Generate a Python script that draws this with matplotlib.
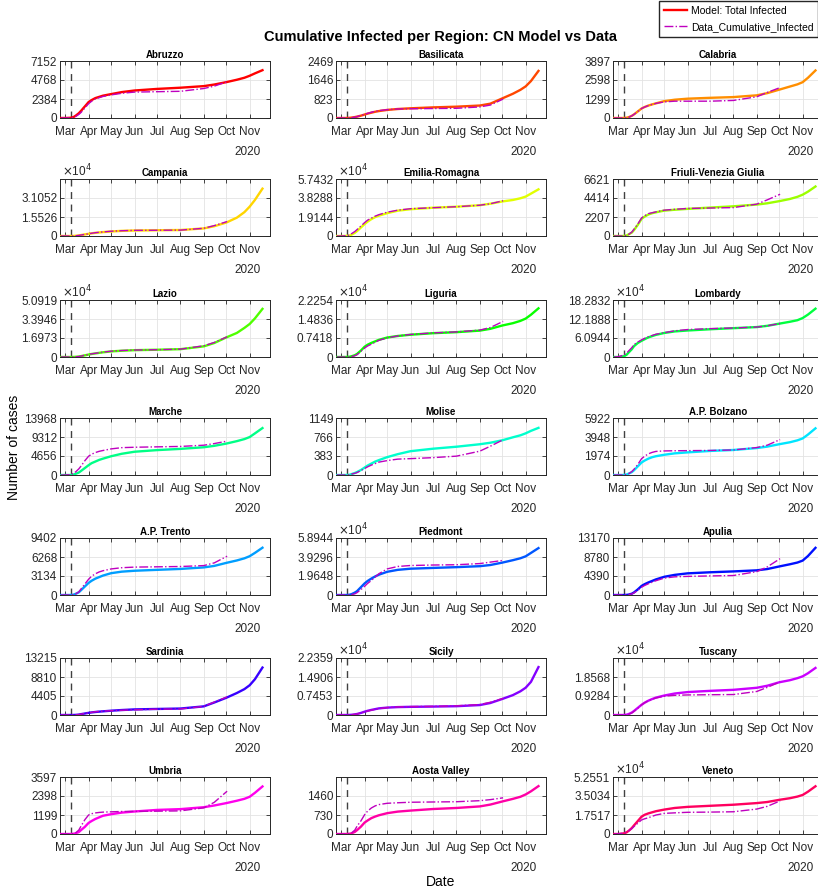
import numpy as np
import matplotlib
matplotlib.use('Agg')
import matplotlib.pyplot as plt
from matplotlib import font_manager

# pick a narrow Helvetica-like font if there is one
names = {f.name for f in font_manager.fontManager.ttflist}
if 'Liberation Sans Narrow' in names:
    base_font = 'Liberation Sans Narrow'
    fs = 9
else:
    base_font = 'Liberation Sans'
    fs = 8.5
plt.rcParams['font.family'] = [base_font, 'DejaVu Sans']

# Dates of the model and data points
model_dates = ['2020-02-24', '2020-03-01', '2020-03-08', '2020-03-12', '2020-03-15',
               '2020-03-19', '2020-03-22', '2020-03-27', '2020-04-01', '2020-04-05',
               '2020-04-10', '2020-04-15', '2020-04-20', '2020-05-01', '2020-05-15',
               '2020-06-01', '2020-07-01', '2020-08-01', '2020-09-01', '2020-09-15',
               '2020-10-01', '2020-10-15', '2020-10-25', '2020-11-01', '2020-11-08',
               '2020-11-18']
data_dates = model_dates[:20] + ['2020-10-02']
start_date = '2020-03-09'
xlim_dates = ['2020-02-23', '2020-11-28']
month_ticks = ['2020-03-01', '2020-04-01', '2020-05-01', '2020-06-01', '2020-07-01',
               '2020-08-01', '2020-09-01', '2020-10-01', '2020-11-01']
month_labels = ['Mar', 'Apr', 'May', 'Jun', 'Jul', 'Aug', 'Sep', 'Oct', 'Nov']

regions = ['Abruzzo', 'Basilicata', 'Calabria', 'Campania', 'Emilia-Romagna',
           'Friuli-Venezia Giulia', 'Lazio', 'Liguria', 'Lombardy', 'Marche', 'Molise',
           'A.P. Bolzano', 'A.P. Trento', 'Piedmont', 'Apulia', 'Sardinia', 'Sicily',
           'Tuscany', 'Umbria', 'Aosta Valley', 'Veneto']

# y axis: top limit and tick values, exponent flag
ylims = [7152, 2469, 3897, 46578, 57432, 6621, 50919, 22254, 182832, 13968, 1149,
         5922, 9402, 58944, 13170, 13215, 22359, 27852, 3597, 2190, 52551]
yticks = [[0, 2384, 4768, 7152], [0, 823, 1646, 2469], [0, 1299, 2598, 3897],
          [0, 15526, 31052], [0, 19144, 38288, 57432], [0, 2207, 4414, 6621],
          [0, 16973, 33946, 50919], [0, 7418, 14836, 22254], [0, 60944, 121888, 182832],
          [0, 4656, 9312, 13968], [0, 383, 766, 1149], [0, 1974, 3948, 5922],
          [0, 3134, 6268, 9402], [0, 19648, 39296, 58944], [0, 4390, 8780, 13170],
          [0, 4405, 8810, 13215], [0, 7453, 14906, 22359], [0, 9284, 18568],
          [0, 1199, 2398, 3597], [0, 730, 1460], [0, 17517, 35034, 52551]]
use_exp = [False, False, False, True, True, False, True, True, True, False, False,
           False, False, True, False, False, True, True, False, False, True]

# Model: Total Infected
model_vals = [
    [0, 0, 30, 120, 300, 600, 900, 1450, 2000, 2250, 2500, 2650, 2800, 3000, 3250, 3450, 3650, 3800, 4000, 4200, 4500, 4800, 5050, 5300, 5600, 6000],
    [0, 0, 0, 8, 20, 40, 60, 100, 150, 190, 230, 270, 300, 350, 390, 420, 460, 490, 540, 620, 850, 1050, 1220, 1370, 1600, 2040],
    [0, 0, 0, 20, 60, 150, 250, 450, 650, 750, 850, 930, 1000, 1150, 1250, 1320, 1380, 1430, 1550, 1700, 1940, 2150, 2300, 2450, 2750, 3250],
    [0, 0, 0, 60, 200, 500, 800, 1300, 1800, 2200, 2600, 2900, 3200, 3700, 4200, 4500, 4700, 4900, 6200, 8000, 11000, 15000, 19500, 24000, 29500, 38700],
    [0, 0, 100, 500, 1500, 3200, 5000, 8500, 12000, 14500, 17000, 19000, 20500, 23000, 25500, 27000, 28500, 29500, 31000, 32500, 34800, 36300, 38000, 39700, 42700, 47000],
    [0, 0, 0, 60, 200, 400, 700, 1300, 2000, 2250, 2500, 2650, 2750, 2950, 3050, 3150, 3300, 3450, 3650, 3800, 4050, 4300, 4550, 4800, 5150, 5750],
    [0, 0, 0, 60, 200, 450, 800, 1500, 2200, 2700, 3200, 3700, 4200, 5000, 5600, 6100, 6500, 7000, 9500, 12500, 17500, 21500, 26000, 29500, 34500, 43000],
    [0, 0, 0, 100, 300, 700, 1200, 2500, 4000, 4800, 5500, 6100, 6700, 7600, 8200, 8700, 9300, 9700, 10300, 11000, 12300, 13200, 14100, 15000, 16500, 19000],
    [0, 0, 2000, 7000, 15000, 25000, 35000, 45000, 52000, 57000, 63000, 67000, 71000, 77000, 82000, 85000, 89000, 92500, 96000, 100000, 107000, 113000, 118000, 125000, 136000, 155000],
    [0, 0, 0, 100, 300, 600, 1000, 1700, 2400, 2900, 3300, 3700, 4000, 4600, 5200, 5700, 6100, 6400, 6800, 7150, 7700, 8300, 8800, 9300, 10200, 11500],
    [0, 0, 0, 5, 20, 40, 60, 100, 150, 190, 230, 270, 300, 360, 420, 480, 530, 570, 620, 650, 700, 760, 800, 840, 890, 950],
    [0, 0, 0, 50, 150, 300, 500, 900, 1300, 1500, 1700, 1850, 1950, 2100, 2250, 2350, 2500, 2600, 2800, 2950, 3200, 3400, 3600, 3800, 4200, 4850],
    [0, 0, 0, 60, 200, 450, 800, 1400, 2000, 2350, 2700, 2950, 3200, 3600, 3850, 4000, 4150, 4300, 4550, 4800, 5300, 5700, 6050, 6400, 6950, 7800],
    [0, 0, 0, 300, 1000, 2500, 4000, 8000, 12000, 14500, 17000, 19200, 21000, 24000, 26000, 27200, 28000, 28800, 29800, 31000, 33500, 36000, 38000, 40000, 43500, 48500],
    [0, 0, 0, 30, 100, 300, 600, 1300, 2100, 2500, 2900, 3250, 3600, 4200, 4650, 5000, 5250, 5450, 5700, 6000, 6600, 7100, 7500, 7950, 9000, 10900],
    [0, 0, 0, 10, 30, 100, 200, 350, 500, 600, 700, 780, 850, 1000, 1150, 1300, 1400, 1500, 2000, 2900, 4000, 5100, 6000, 6900, 8300, 11000],
    [0, 0, 0, 30, 100, 250, 400, 800, 1300, 1650, 2000, 2300, 2600, 2900, 3100, 3200, 3300, 3450, 3900, 4700, 6300, 7800, 9300, 10700, 13000, 18800],
    [0, 0, 0, 150, 500, 1200, 2000, 3500, 5000, 6000, 7000, 7800, 8500, 9500, 10500, 11200, 11800, 12300, 13300, 14300, 16000, 17000, 18000, 18900, 20400, 23000],
    [0, 0, 0, 15, 50, 120, 250, 450, 700, 820, 950, 1050, 1150, 1250, 1350, 1420, 1520, 1570, 1690, 1800, 1950, 2100, 2220, 2350, 2600, 3000],
    [0, 0, 0, 10, 30, 80, 150, 280, 440, 520, 610, 670, 720, 800, 860, 900, 960, 1000, 1060, 1130, 1250, 1350, 1430, 1520, 1640, 1840],
    [0, 0, 500, 1500, 3000, 5500, 8000, 12000, 16000, 17700, 19000, 20000, 21000, 22500, 24000, 25000, 26000, 27000, 28500, 29500, 31500, 33000, 34500, 36000, 39000, 44000],
]

# Data_Cumulative_Infected
data_vals = [
    [0, 0, 20, 80, 200, 450, 700, 1250, 1800, 2100, 2400, 2550, 2700, 2900, 3100, 3250, 3300, 3350, 3700, 4000, 4550],
    [0, 0, 0, 5, 15, 35, 60, 110, 160, 200, 250, 290, 320, 360, 390, 400, 410, 420, 480, 560, 820],
    [0, 0, 0, 15, 50, 150, 250, 450, 650, 750, 850, 930, 1000, 1100, 1150, 1150, 1150, 1200, 1450, 1750, 2080],
    [0, 0, 0, 60, 200, 500, 800, 1300, 1800, 2250, 2700, 3000, 3300, 3900, 4300, 4600, 4700, 4800, 6300, 8500, 11800],
    [0, 0, 300, 1000, 2500, 4500, 6500, 10000, 13500, 16000, 18000, 20000, 21500, 24000, 26000, 27500, 28500, 29500, 31000, 32500, 35500],
    [0, 0, 0, 60, 200, 450, 800, 1400, 2100, 2350, 2600, 2700, 2800, 3000, 3100, 3200, 3250, 3300, 3700, 4200, 4850],
    [0, 0, 0, 60, 200, 450, 800, 1600, 2300, 2800, 3300, 3800, 4300, 5200, 5800, 6200, 6500, 7000, 10000, 13000, 18000],
    [0, 0, 0, 60, 200, 500, 900, 2200, 3500, 4300, 5000, 5800, 6500, 7500, 8200, 8800, 9400, 9800, 10500, 11500, 13900],
    [0, 1000, 6000, 12000, 20000, 30000, 40000, 48000, 55000, 60000, 65000, 69000, 73000, 78000, 84000, 88000, 91000, 93000, 96000, 100000, 107500],
    [0, 0, 100, 400, 800, 1500, 2200, 3500, 4600, 5100, 5500, 5800, 6000, 6400, 6700, 6800, 6900, 7000, 7300, 7700, 8300],
    [0, 0, 0, 5, 20, 35, 50, 90, 130, 165, 200, 230, 260, 290, 320, 330, 350, 380, 480, 580, 710],
    [0, 0, 0, 50, 150, 350, 600, 1100, 1700, 1950, 2200, 2350, 2450, 2500, 2520, 2530, 2550, 2600, 2850, 3100, 3680],
    [0, 0, 0, 60, 200, 500, 1000, 1800, 2600, 3100, 3500, 3800, 4000, 4300, 4500, 4600, 4650, 4700, 4850, 5300, 6400],
    [0, 0, 0, 150, 500, 1200, 2500, 5500, 9000, 12000, 15000, 18500, 22000, 27000, 29500, 30500, 31000, 31300, 32500, 34000, 35800],
    [0, 0, 0, 30, 100, 250, 500, 1100, 1800, 2200, 2600, 2950, 3300, 3900, 4200, 4300, 4400, 4500, 5400, 6500, 8400],
    [0, 0, 0, 10, 30, 100, 200, 350, 500, 620, 750, 830, 900, 1000, 1100, 1200, 1350, 1400, 2000, 3000, 4200],
    [0, 0, 0, 30, 100, 250, 400, 750, 1200, 1550, 1900, 2200, 2500, 2900, 3200, 3300, 3400, 3600, 4100, 5000, 6500],
    [0, 0, 0, 120, 400, 1000, 1800, 3300, 5000, 6000, 7000, 7700, 8300, 9200, 9600, 9800, 9900, 10000, 11500, 13500, 16200],
    [0, 0, 0, 30, 80, 250, 500, 900, 1200, 1280, 1330, 1360, 1380, 1400, 1420, 1430, 1440, 1460, 1650, 2000, 2700],
    [0, 0, 0, 15, 50, 150, 300, 500, 740, 880, 1000, 1080, 1130, 1180, 1200, 1220, 1230, 1240, 1280, 1320, 1390],
    [0, 200, 800, 1800, 3000, 5000, 7000, 10000, 13000, 14000, 15000, 16300, 17500, 19000, 19500, 20000, 20200, 20500, 23000, 25500, 30500],
]

md = np.array(model_dates, dtype='datetime64[D]')
dd = np.array(data_dates, dtype='datetime64[D]')
colors = plt.cm.hsv(np.arange(len(regions)) / len(regions))

W, H = 818, 894
fig = plt.figure(figsize=(W / 100, H / 100), dpi=100)

col_left = [60, 336, 613]
row_top = [61, 179, 300, 418, 538, 658, 777]
ax_w, ax_h = 210, 57

for i, reg in enumerate(regions):
    r, c = divmod(i, 3)
    ax = fig.add_axes([col_left[c] / W, 1 - (row_top[r] + ax_h) / H, ax_w / W, ax_h / H])
    l1, = ax.plot(md, model_vals[i], '-', color=colors[i], lw=1.7, zorder=3)
    l2, = ax.plot(dd, data_vals[i], '-.', color='m', lw=1.0, zorder=4)
    ax.axvline(np.datetime64(start_date), color='0.25', ls='--', lw=1.0, dashes=(5, 4), zorder=2)
    if i == 0:
        handles = [l1, l2]

    ax.set_xlim(np.datetime64(xlim_dates[0]), np.datetime64(xlim_dates[1]))
    ax.set_xticks(np.array(month_ticks, dtype='datetime64[D]'))
    ax.set_xticklabels(month_labels)
    ax.set_ylim(0, ylims[i])
    ax.set_yticks(yticks[i])
    if use_exp[i]:
        ax.set_yticklabels([('0' if v == 0 else f'{v / 1e4:.4f}'.rstrip('0').rstrip('.')) for v in yticks[i]])
        ax.text(0.01, 1.0, r'$\times$10$^4$', transform=ax.transAxes, fontsize=fs,
                ha='left', va='bottom', color='0.15')
    else:
        ax.set_yticklabels([str(v) for v in yticks[i]])

    ax.grid(True, color='#e3e3e3', lw=0.6)
    ax.set_axisbelow(True)
    ax.tick_params(direction='in', top=True, right=True, length=3, width=0.6,
                   labelsize=fs, pad=2, colors='0.15')
    ax.tick_params(axis='x', pad=6)
    for s in ax.spines.values():
        s.set_color('0.15')
        s.set_linewidth(0.7)
    ax.set_title(reg, fontsize=7, fontweight='bold', pad=2)
    ax.annotate('2020', xy=(0.955, 0), xycoords='axes fraction', xytext=(0, -24.5),
                textcoords='offset points', ha='right', va='center', fontsize=fs, color='0.15')

fig.text(440 / W, 1 - 37 / H, 'Cumulative Infected per Region: CN Model vs Data',
         ha='center', va='center', fontsize=10.5, fontweight='bold')
fig.text(441 / W, 1 - 882 / H, 'Date', ha='center', va='center', fontsize=10)
fig.text(14 / W, 0.5, 'Number of cases', ha='center', va='center', rotation=90, fontsize=10)

fig.legend(handles, ['Model: Total Infected', 'Data_Cumulative_Infected'],
           loc='upper right', bbox_to_anchor=(1.0, 1 - 1 / H), fontsize=7.5,
           frameon=True, fancybox=False, edgecolor='0.15', framealpha=1,
           handlelength=2.2, borderpad=0.45, labelspacing=0.6, handletextpad=0.4,
           borderaxespad=0)

fig.savefig('out.png', dpi=100)
